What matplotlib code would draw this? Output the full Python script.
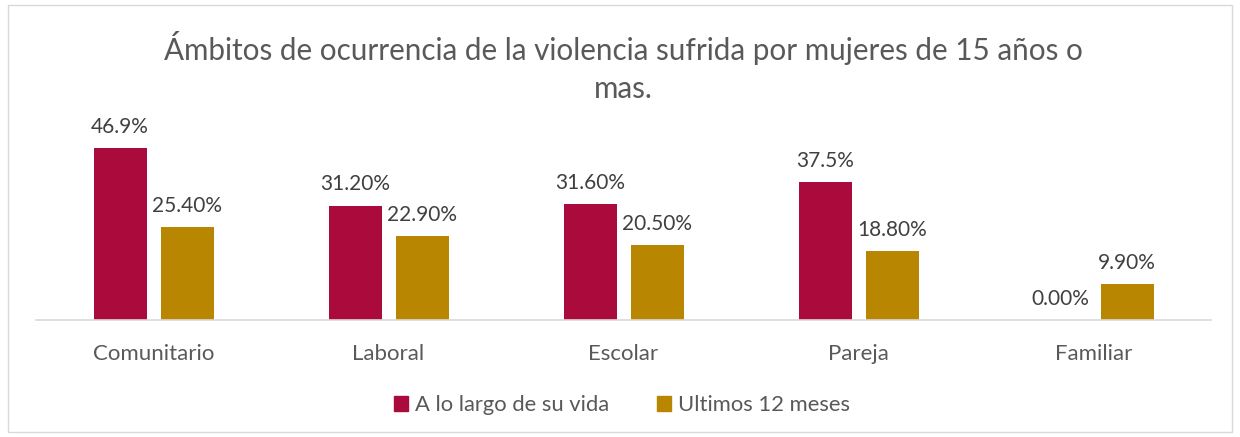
import matplotlib
matplotlib.use("Agg")
import matplotlib.pyplot as plt
from matplotlib.patches import Rectangle, Patch
import numpy as np

categories = ["Comunitario", "Laboral", "Escolar", "Pareja", "Familiar"]
vida = [46.9, 31.2, 31.6, 37.5, 0.0]
ultimos = [25.4, 22.9, 20.5, 18.8, 9.9]
vida_labels = ["46.9%", "31.20%", "31.60%", "37.5%", "0.00%"]
ultimos_labels = ["25.40%", "22.90%", "20.50%", "18.80%", "9.90%"]
series_names = ["A lo largo de su vida", "Ultimos 12 meses"]
title = "Ámbitos de ocurrencia de la violencia sufrida por mujeres de 15 años o\nmas."

C1 = "#AA0A3C"
C2 = "#B88600"
TXT = "#595959"
VAL = "#404040"
FONT = ["Lato", "DejaVu Sans"]
plt.rcParams['font.family'] = FONT

W, H = 1240, 437
fig = plt.figure(figsize=(W/100, H/100), dpi=100)
fig.patches.append(Rectangle((8/W, 5/H), 1224/W, 427/H, transform=fig.transFigure,
                             fill=False, edgecolor="#D9D9D9", linewidth=1))

ax_left, ax_right = 36, 1211
ax_bottom = 320
ymax = 50
ax_height = ymax * 172 / 46.9
ax = fig.add_axes([ax_left/W, (H-ax_bottom)/H, (ax_right-ax_left)/W, ax_height/H])

x = np.arange(len(categories))
bw = 53/235
off = 33.5/235
b1 = ax.bar(x - off, vida, bw, color=C1)
b2 = ax.bar(x + off, ultimos, bw, color=C2)

for r, lab in zip(b1, vida_labels):
    ax.annotate(lab, (r.get_x() + r.get_width()/2, r.get_height()), xytext=(0, 8),
                textcoords="offset points", ha="center", va="bottom", fontsize=15, color=VAL)
for r, lab in zip(b2, ultimos_labels):
    ax.annotate(lab, (r.get_x() + r.get_width()/2, r.get_height()), xytext=(0, 8),
                textcoords="offset points", ha="center", va="bottom", fontsize=15, color=VAL)

ax.set_xlim(-0.5, len(categories) - 0.5)
ax.set_ylim(0, ymax)
ax.set_xticks(x)
ax.set_xticklabels(categories, fontsize=16, color=TXT)
ax.tick_params(axis="x", length=0, pad=17)
ax.set_yticks([])
for s in ["top", "right", "left"]:
    ax.spines[s].set_visible(False)
ax.spines["bottom"].set_color("#D9D9D9")
ax.spines["bottom"].set_linewidth(1.2)
ax.patch.set_visible(False)

fig.text(623/W, 1 - 67/H, title, ha="center", va="center", fontsize=21.3, color=TXT,
         linespacing=1.45)

handles = [Patch(color=C1, label=series_names[0]), Patch(color=C2, label=series_names[1])]
fig.legend(handles=handles, loc="center", bbox_to_anchor=(622/W, 1 - 405/H), ncol=2,
           frameon=False, fontsize=15.8, labelcolor=TXT, handlelength=0.65, handleheight=0.65,
           handletextpad=0.3, columnspacing=2.2)

fig.savefig("out.png", dpi=100)
